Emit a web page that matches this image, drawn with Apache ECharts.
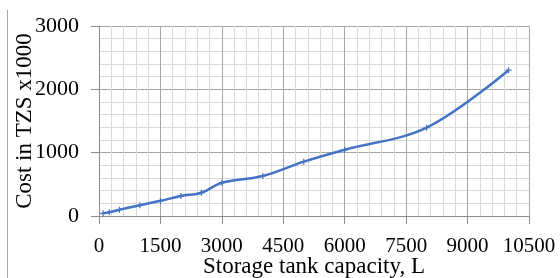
<!DOCTYPE html>
<html>
<head>
<meta charset="utf-8">
<script src="https://cdn.jsdelivr.net/npm/echarts@6/dist/echarts.min.js"></script>
<style>
html,body{margin:0;padding:0;background:#fff;}
#c{width:560px;height:278px;}
</style>
</head>
<body>
<div id="c"></div>
<script>
const capacity = [100, 250, 500, 1000, 1500, 2000, 2500, 3000, 4000, 5000, 6000, 8000, 10000];
const cost = [42, 58, 100, 169, 240, 316, 368, 526, 632, 858, 1047, 1395, 2302];
const xTitle = 'Storage tank capacity, L';
const yTitle = 'Cost in TZS x1000';

const chart = echarts.init(document.getElementById('c'), null, {renderer: 'canvas'});
const font = 'Liberation Serif';
chart.setOption({
  animation: false,
  backgroundColor: '#ffffff',
  grid: {left: 99, right: 31, top: 26, bottom: 62, containLabel: false, outerBoundsMode: 'none'},
  graphic: [{
    type: 'line',
    shape: {x1: 7.5, y1: 10, x2: 7.5, y2: 278},
    style: {stroke: '#a6a6a6', lineWidth: 1}
  }],
  xAxis: {
    type: 'value', min: 0, max: 10500, interval: 1500,
    name: xTitle, nameLocation: 'middle', nameGap: 39, nameMoveOverlap: false,
    nameTextStyle: {fontFamily: font, fontSize: 23, color: '#000'},
    axisLine: {show: true, lineStyle: {color: '#8c8c8c', width: 1}},
    axisTick: {show: true, length: 8, lineStyle: {color: '#8c8c8c'}},
    axisLabel: {fontFamily: font, fontSize: 21, color: '#000', margin: 20, formatter: v => String(v)},
    splitLine: {show: true, lineStyle: {color: '#a6a6a6', width: 1}},
    minorTick: {show: false, splitNumber: 5},
    minorSplitLine: {show: true, lineStyle: {color: '#d9d9d9', width: 1}}
  },
  yAxis: {
    type: 'value', min: 0, max: 3000, interval: 1000,
    name: yTitle, nameLocation: 'middle', nameGap: 63, nameRotate: 90, nameMoveOverlap: false,
    nameTextStyle: {fontFamily: font, fontSize: 23, color: '#000'},
    axisLine: {show: true, lineStyle: {color: '#8c8c8c', width: 1}},
    axisTick: {show: true, length: 8, lineStyle: {color: '#8c8c8c'}},
    axisLabel: {fontFamily: font, fontSize: 22, color: '#000', margin: 20, formatter: v => String(v)},
    splitLine: {show: true, lineStyle: {color: '#a6a6a6', width: 1}},
    minorTick: {show: false, splitNumber: 5},
    minorSplitLine: {show: true, lineStyle: {color: '#d9d9d9', width: 1}}
  },
  series: [{
    type: 'line',
    data: capacity.map((x, i) => [x, cost[i]]),
    smooth: 0.35,
    symbol: 'path://M0,2 L5,2 L5,3 L0,3 Z M2,0 L3,0 L3,5 L2,5 Z',
    symbolSize: 6,
    showSymbol: true,
    itemStyle: {color: '#4472C4'},
    lineStyle: {color: '#4472C4', width: 2.5}
  }]
});
</script>
</body>
</html>
